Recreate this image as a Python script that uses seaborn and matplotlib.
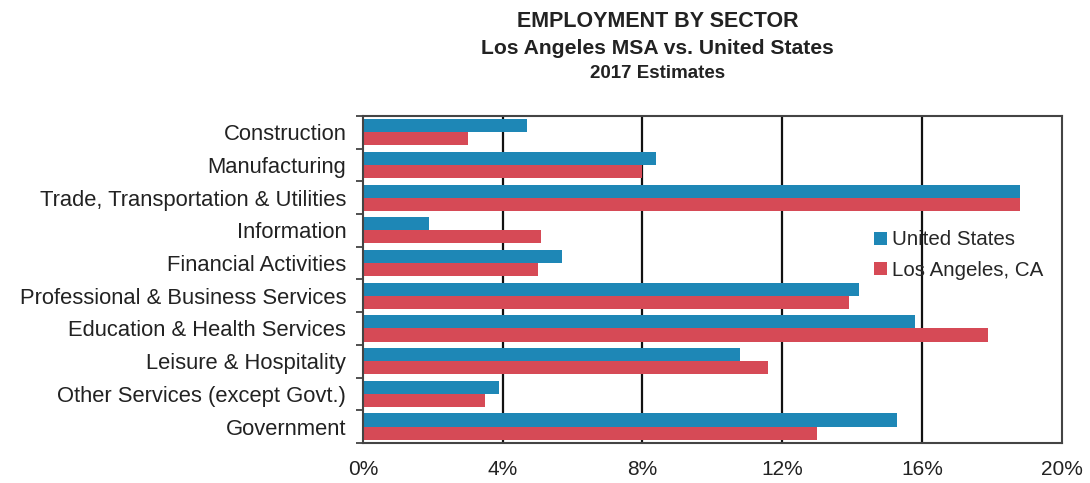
import matplotlib
matplotlib.use("Agg")
import matplotlib.pyplot as plt
import seaborn as sns
import pandas as pd
from matplotlib.ticker import FuncFormatter, FixedLocator

categories = [
    "Construction",
    "Manufacturing",
    "Trade, Transportation & Utilities",
    "Information",
    "Financial Activities",
    "Professional & Business Services",
    "Education & Health Services",
    "Leisure & Hospitality",
    "Other Services (except Govt.)",
    "Government",
]
us_values = [4.7, 8.4, 18.8, 1.9, 5.7, 14.2, 15.8, 10.8, 3.9, 15.3]
la_values = [3.0, 8.0, 18.8, 5.1, 5.0, 13.9, 17.9, 11.6, 3.5, 13.0]
series_names = ["United States", "Los Angeles, CA"]
x_ticks = [0, 4, 8, 12, 16, 20]

df = pd.DataFrame({
    "Sector": categories * 2,
    "Value": us_values + la_values,
    "Series": [series_names[0]] * len(categories) + [series_names[1]] * len(categories),
})

sns.set_theme(style="white")
plt.rcParams["font.family"] = ["Liberation Sans", "DejaVu Sans"]

fig = plt.figure(figsize=(10.9, 4.83), dpi=100)
ax = fig.add_axes([0.333, 0.083, 0.641, 0.677])

palette = {series_names[0]: "#1e87b6", series_names[1]: "#d64a56"}
sns.barplot(data=df, y="Sector", x="Value", hue="Series", order=categories,
            hue_order=series_names, palette=palette, orient="h", width=0.8,
            saturation=1, ax=ax, linewidth=0)

ax.set_xlim(0, 20)
ax.set_xticks(x_ticks)
ax.xaxis.set_major_formatter(FuncFormatter(lambda v, p: f"{int(v)}%"))
ax.set_xlabel("")
ax.set_ylabel("")
ax.tick_params(axis="x", labelsize=15, length=0, pad=12, colors="#222222")
ax.tick_params(axis="y", which="major", labelsize=15.8, length=0, pad=12, colors="#222222")
ax.yaxis.set_minor_locator(FixedLocator([i + 0.5 for i in range(-1, len(categories))]))
ax.tick_params(axis="y", which="minor", length=5, width=1.2, color="#333333", left=True)

for v in x_ticks[1:-1]:
    ax.axvline(v, color="#111111", lw=1.6, zorder=0)

for s in ax.spines.values():
    s.set_color("#444444")
    s.set_linewidth(1.5)

leg = ax.legend(loc="upper left", bbox_to_anchor=(0.72, 0.675), frameon=False,
                fontsize=14.8, handlelength=0.6, handleheight=0.6, handletextpad=0.25,
                labelspacing=0.55, borderaxespad=0)

fig.text(0.603, 0.955, "EMPLOYMENT BY SECTOR", ha="center", va="center",
         fontsize=15.5, fontweight="bold", color="#222222")
fig.text(0.603, 0.900, "Los Angeles MSA vs. United States", ha="center", va="center",
         fontsize=15.2, fontweight="bold", color="#222222")
fig.text(0.603, 0.848, "2017 Estimates", ha="center", va="center",
         fontsize=13.5, fontweight="bold", color="#222222")

fig.savefig("out.png", dpi=100)
